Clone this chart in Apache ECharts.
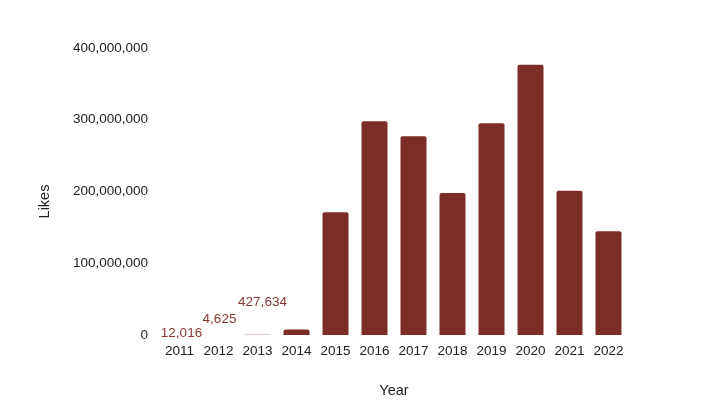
<!DOCTYPE html>
<html>
<head>
<meta charset="utf-8">
<script src="https://cdn.jsdelivr.net/npm/echarts@6/dist/echarts.min.js"></script>
<style>
  html, body { margin: 0; padding: 0; background: #fff; }
  #main { width: 707px; height: 412px; }
</style>
</head>
<body>
<div id="main"></div>
<script>
var years = ['2011', '2012', '2013', '2014', '2015', '2016', '2017', '2018', '2019', '2020', '2021', '2022'];
var likes = [12016, 4625, 427634, 7500000, 171000000, 297800000, 276900000, 197900000, 295000000, 376700000, 201100000, 144500000];
// value labels only for the tiny bars
var labelOffsets = {0: [2, 10], 1: [1, -4], 2: [5, -20]};

var chart = echarts.init(document.getElementById('main'));

var barData = likes.map(function (v, i) {
    var item = {value: v};
    if (labelOffsets[i]) {
        item.label = {
            show: true,
            position: 'top',
            offset: labelOffsets[i],
            color: '#8a3833',
            fontSize: 13.5,
            fontFamily: 'Liberation Sans',
            formatter: function (p) { return p.value.toLocaleString('en-US'); }
        };
    }
    return item;
});

var option = {
    animation: false,
    textStyle: {fontFamily: 'Liberation Sans'},
    grid: {left: 160, right: 79, top: 48, bottom: 77},
    xAxis: {
        type: 'category',
        data: years,
        name: 'Year',
        nameLocation: 'middle',
        nameGap: 48,
        nameTextStyle: {color: '#222', fontSize: 14.5},
        axisLine: {show: false},
        axisTick: {show: false},
        axisLabel: {color: '#222', fontSize: 13.5, margin: 9, interval: 0}
    },
    yAxis: {
        type: 'value',
        min: 0,
        max: 400000000,
        interval: 100000000,
        name: 'Likes',
        nameLocation: 'middle',
        nameGap: 108,
        nameTextStyle: {color: '#222', fontSize: 14.5, padding: [0, 20, 0, 0]},
        splitLine: {show: false},
        axisLine: {show: false},
        axisTick: {show: false},
        axisLabel: {
            color: '#222',
            fontSize: 13.5,
            margin: 12,
            formatter: function (v) { return v.toLocaleString('en-US'); }
        }
    },
    series: [{
        type: 'bar',
        data: barData,
        barWidth: 26,
        itemStyle: {color: '#7d2d27', borderRadius: [2, 2, 0, 0]}
    }]
};
chart.setOption(option);
</script>
</body>
</html>
